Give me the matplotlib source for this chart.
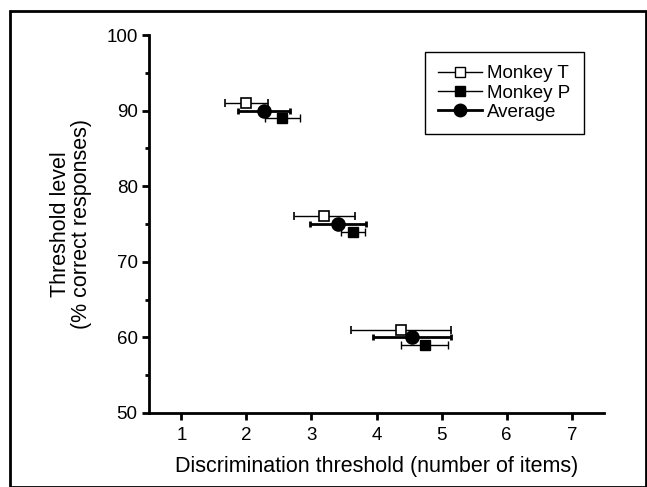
import matplotlib
matplotlib.use("Agg")
import matplotlib.pyplot as plt
from matplotlib.patches import Rectangle
from matplotlib.lines import Line2D
from matplotlib.ticker import MultipleLocator

plt.rcParams['font.family'] = ['Liberation Sans', 'DejaVu Sans']

# threshold level (% correct)
lvl_t = [91, 76, 61]
lvl_p = [89, 74, 59]
lvl_avg = [90, 75, 60]

# discrimination threshold and its error
thr_t = [2.0, 3.2, 4.37]
err_t = [0.33, 0.47, 0.77]
thr_p = [2.55, 3.64, 4.74]
err_p = [0.27, 0.19, 0.36]
thr_avg = [2.27, 3.41, 4.55]
err_avg = [0.40, 0.43, 0.60]

fig = plt.figure(figsize=(6.47, 4.87), dpi=100)
ax = fig.add_axes([0.230, 0.152, 0.704, 0.776])

ax.errorbar(thr_t, lvl_t, xerr=err_t, fmt='s', mfc='white', mec='black',
            ms=7, mew=1.2, ecolor='black', elinewidth=1.0, capsize=3, capthick=1.0,
            zorder=3)
ax.errorbar(thr_p, lvl_p, xerr=err_p, fmt='s', mfc='black', mec='black',
            ms=7, ecolor='black', elinewidth=1.0, capsize=3, capthick=1.0,
            zorder=3)
ax.errorbar(thr_avg, lvl_avg, xerr=err_avg, fmt='o', mfc='black', mec='black',
            ms=9.5, ecolor='black', elinewidth=2.0, capsize=2, capthick=2.0,
            zorder=4)

ax.set_xlim(0.5, 7.5)
ax.set_ylim(50, 100)
ax.xaxis.set_major_locator(MultipleLocator(1))
ax.yaxis.set_major_locator(MultipleLocator(10))
ax.yaxis.set_minor_locator(MultipleLocator(5))
ax.spines['top'].set_visible(False)
ax.spines['right'].set_visible(False)
ax.spines['left'].set_linewidth(2)
ax.spines['bottom'].set_linewidth(2)
ax.tick_params(axis='both', which='major', length=5, width=2, labelsize=13.5, pad=3)
ax.tick_params(axis='x', pad=5)
ax.tick_params(axis='y', which='minor', length=3, width=2)

ax.set_xlabel('Discrimination threshold (number of items)', fontsize=15.5, labelpad=9)
ax.set_ylabel('Threshold level\n(% correct responses)', fontsize=15.5, labelpad=10,
              linespacing=1.05)

handles = [
    Line2D([], [], color='black', lw=1, marker='s', mfc='white', mec='black', ms=6.5),
    Line2D([], [], color='black', lw=1, marker='s', mfc='black', mec='black', ms=6.5),
    Line2D([], [], color='black', lw=2, marker='o', mfc='black', mec='black', ms=9),
]
leg = ax.legend(handles, ['Monkey T', 'Monkey P', 'Average'], loc='upper right',
                bbox_to_anchor=(0.975, 0.98), fontsize=13.5, fancybox=False, framealpha=1,
                edgecolor='black', handlelength=2.3, handletextpad=0.3,
                labelspacing=0.12, borderpad=0.7)
leg.get_frame().set_linewidth(1.0)

# outer frame around whole figure
fig.patches.append(Rectangle((0.016, 0.0), 0.982, 0.977, transform=fig.transFigure,
                             fill=False, edgecolor='black', lw=2))

fig.savefig('out.png', dpi=100)
